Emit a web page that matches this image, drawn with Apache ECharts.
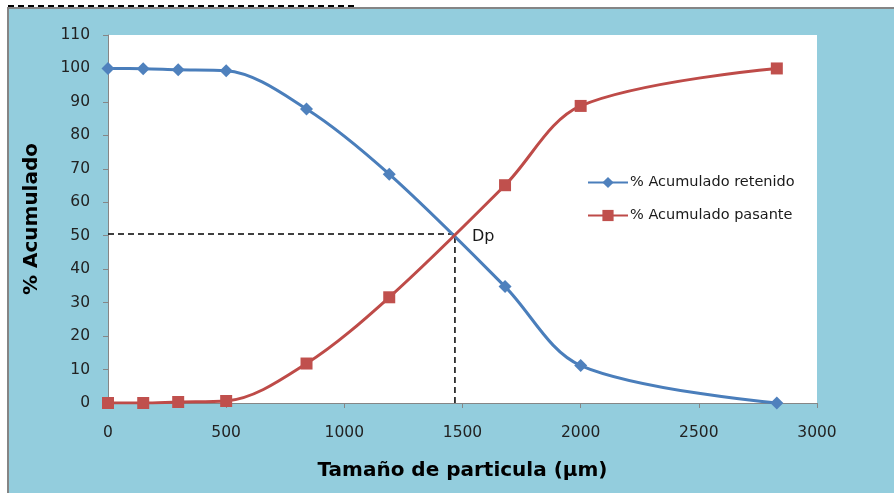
<!DOCTYPE html>
<html>
<head>
<meta charset="utf-8">
<script src="https://cdn.jsdelivr.net/npm/echarts@6/dist/echarts.min.js"></script>
<style>
  html, body { margin: 0; padding: 0; background: #ffffff; }
  #chart { width: 894px; height: 493px; }
</style>
</head>
<body>
<div id="chart"></div>
<script>
// Sieve apertures (µm) and cumulative percentages
const sizes = [0, 149, 297, 500, 840, 1190, 1680, 2000, 2830];
const retained = [100, 99.9, 99.6, 99.3, 87.9, 68.4, 34.8, 11.2, 0];
const passing = [0, 0, 0.3, 0.6, 11.8, 31.6, 65.1, 88.8, 100];

// Characteristic diameter (crossing of both curves)
const dpSize = 1468;
const dpPercent = 50.5;

const xTicks = { min: 0, max: 3000, interval: 500 };
const yTicks = { min: 0, max: 110, interval: 10 };

const seriesNames = ['% Acumulado retenido', '% Acumulado pasante'];
const xTitle = 'Tamaño de particula (µm)';
const yTitle = '% Acumulado';

const pairs = (xs, ys) => xs.map((x, i) => [x, ys[i]]);

const chart = echarts.init(document.getElementById('chart'), null, { renderer: 'canvas' });

const tickFont = { fontFamily: 'DejaVu Sans', fontSize: 15.5, color: '#222222' };
const plain = v => String(v);

chart.setOption({
  backgroundColor: '#ffffff',
  animation: false,
  graphic: [
    {
      type: 'rect', z: -10,
      shape: { x: 8, y: 8, width: 900, height: 500 },
      style: { fill: '#93CDDD', stroke: '#858585', lineWidth: 2 }
    },
    {
      type: 'line', z: -5,
      shape: { x1: 8, y1: 6, x2: 357, y2: 6 },
      style: { stroke: '#000000', lineWidth: 2, lineDash: [6, 4] }
    }
  ],
  grid: {
    left: 108, top: 35, right: 77, bottom: 90,
    show: true, backgroundColor: '#ffffff', borderWidth: 0
  },
  legend: {
    orient: 'vertical',
    left: 582, top: 170,
    itemWidth: 40, itemHeight: 14, itemGap: 18,
    textStyle: { fontFamily: 'DejaVu Sans', fontSize: 14.5, color: '#1a1a1a', padding: [0, 0, 0, -3] },
    data: seriesNames
  },
  xAxis: {
    type: 'value',
    min: xTicks.min, max: xTicks.max, interval: xTicks.interval,
    name: xTitle, nameLocation: 'middle', nameGap: 58,
    nameTextStyle: { fontFamily: 'DejaVu Sans', fontWeight: 'bold', fontSize: 20, color: '#000' },
    axisLine: { lineStyle: { color: '#868686', width: 1 } },
    axisTick: { show: true, length: 5, lineStyle: { color: '#868686' } },
    axisLabel: Object.assign({ margin: 22, formatter: plain }, tickFont),
    splitLine: { show: false }
  },
  yAxis: {
    type: 'value',
    min: yTicks.min, max: yTicks.max, interval: yTicks.interval,
    name: yTitle, nameLocation: 'middle', nameGap: 66,
    nameTextStyle: { fontFamily: 'DejaVu Sans', fontWeight: 'bold', fontSize: 20, color: '#000' },
    axisLine: { show: true, lineStyle: { color: '#868686', width: 1 } },
    axisTick: { show: true, length: 5, lineStyle: { color: '#868686' } },
    axisLabel: Object.assign({ margin: 18, formatter: plain }, tickFont),
    splitLine: { show: false }
  },
  series: [
    {
      name: seriesNames[0], type: 'line', smooth: 0.33,
      data: pairs(sizes, retained),
      symbol: 'diamond', symbolSize: 13,
      lineStyle: { color: '#4A7EBB', width: 3 },
      itemStyle: { color: '#4F81BD' },
      z: 3
    },
    {
      name: seriesNames[1], type: 'line', smooth: 0.33,
      data: pairs(sizes, passing),
      symbol: 'rect', symbolSize: 12,
      lineStyle: { color: '#BE4B48', width: 3 },
      itemStyle: { color: '#C0504D' },
      z: 3
    },
    {
      // guide lines marking Dp on both axes
      type: 'line', silent: true, symbol: 'none', z: 2,
      data: [[0, dpPercent], [dpSize, dpPercent], [dpSize, 0]],
      lineStyle: { color: '#000000', width: 1.5, type: [6, 4] },
      markPoint: {
        symbol: 'circle', symbolSize: 0,
        data: [{ coord: [dpSize, dpPercent], value: 'Dp' }],
        label: {
          show: true, formatter: 'Dp', position: 'right', offset: [12, 3],
          fontFamily: 'DejaVu Sans', fontSize: 16, color: '#1a1a1a'
        }
      }
    }
  ]
});
</script>
</body>
</html>
